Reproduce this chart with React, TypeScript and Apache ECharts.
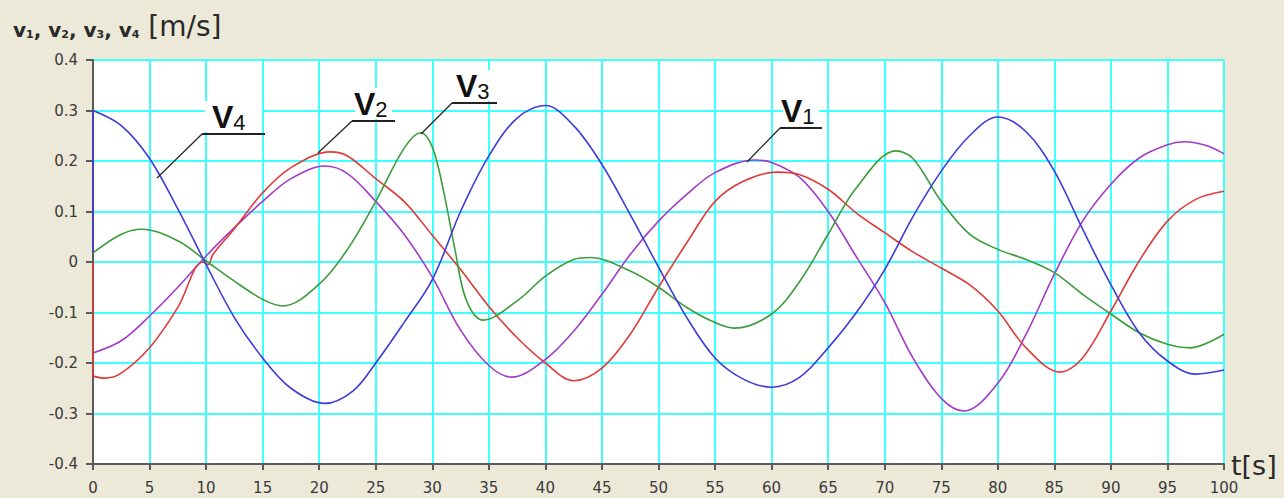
import React, { useEffect, useRef } from "react";
import * as echarts from "echarts";

// v1 (purple): time [s] and velocity [m/s]
const T1 = [0, 2.5, 5, 7.5, 10, 12.5, 15, 17.5, 20.5, 22.5, 25, 27.5, 30, 32.5, 35, 37, 40, 42.5, 45, 47.5, 50, 52.5, 55, 58.5, 60, 62.5, 65, 67.5, 70, 72.5, 75, 77, 80, 82.5, 85, 87.5, 90, 92.5, 95, 96.5, 98.5, 100];
const V1 = [-0.18, -0.156, -0.107, -0.05, 0.012, 0.068, 0.12, 0.165, 0.19, 0.175, 0.12, 0.055, -0.03, -0.135, -0.205, -0.228, -0.193, -0.137, -0.064, 0.015, 0.081, 0.134, 0.177, 0.202, 0.197, 0.167, 0.1, 0.01, -0.08, -0.19, -0.27, -0.295, -0.24, -0.143, -0.024, 0.081, 0.154, 0.206, 0.232, 0.238, 0.23, 0.214];

// v2 (red)
const T2 = [0, 1, 2.5, 5, 7.5, 9.7, 10.2, 10.6, 12.5, 15, 17.5, 21, 22.5, 25, 27.5, 30, 32.5, 35, 37.5, 40, 42.5, 45, 47.5, 50, 52.5, 55, 57.5, 60.5, 62.5, 65, 67.5, 70, 72.5, 75, 77.5, 80, 82.5, 85.5, 87.5, 90, 92.5, 95, 97.5, 100];
const V2 = [-0.226, -0.23, -0.22, -0.17, -0.09, 0.0, -0.005, 0.015, 0.066, 0.137, 0.187, 0.218, 0.21, 0.165, 0.12, 0.053, -0.015, -0.088, -0.15, -0.2, -0.235, -0.21, -0.143, -0.05, 0.038, 0.12, 0.16, 0.178, 0.173, 0.144, 0.097, 0.058, 0.02, -0.012, -0.045, -0.097, -0.17, -0.218, -0.19, -0.097, 0.002, 0.081, 0.124, 0.14];

// v3 (green)
const T3 = [0, 2.5, 4.3, 7.5, 10, 12.5, 15, 16.8, 20, 22.5, 25, 27.5, 29, 30, 31, 32, 33, 34.5, 37.5, 40, 42.5, 44, 47.5, 50, 52.5, 55, 56.7, 60, 62.5, 65, 67.5, 71, 72.5, 75, 77.5, 80, 82.5, 85, 87.5, 90, 92.5, 95, 97, 100];
const V3 = [0.018, 0.055, 0.065, 0.042, 0.002, -0.038, -0.074, -0.087, -0.044, 0.025, 0.12, 0.225, 0.256, 0.228, 0.14, 0.025, -0.075, -0.115, -0.077, -0.028, 0.005, 0.009, -0.018, -0.05, -0.09, -0.12, -0.131, -0.103, -0.038, 0.055, 0.147, 0.22, 0.205, 0.12, 0.055, 0.025, 0.005, -0.021, -0.064, -0.103, -0.14, -0.163, -0.17, -0.143];

// v4 (blue)
const T4 = [0, 2.5, 5, 7.5, 10, 12.5, 15, 17.5, 20.5, 23, 25, 27.5, 30, 32.5, 35, 37.5, 40, 42.5, 45, 47.5, 50, 52.5, 55, 57.5, 60, 62.5, 65, 67.5, 70, 72.5, 75, 77.5, 80, 82.5, 85, 87.5, 90, 92.5, 95, 97.5, 100];
const V4 = [0.3, 0.27, 0.205, 0.105, -0.005, -0.11, -0.19, -0.25, -0.28, -0.255, -0.2, -0.12, -0.035, 0.1, 0.21, 0.285, 0.31, 0.27, 0.193, 0.094, -0.01, -0.11, -0.19, -0.232, -0.248, -0.228, -0.17, -0.1, -0.015, 0.09, 0.18, 0.25, 0.287, 0.258, 0.18, 0.065, -0.045, -0.14, -0.196, -0.222, -0.214];

// values just before the jump at t = 0
const V2_START = 0.0;
const V4_START = 0.02;

const SERIES_NAMES = ["v1", "v2", "v3", "v4"];
const SERIES_TIMES = [T1, T2, T3, T4];
const SERIES_VALUES = [V1, V2, V3, V4];
const SERIES_COLORS = ["#A23CC8", "#E03A3A", "#3C9C3C", "#3C3CDC"];

const LABEL_DIGITS = ["1", "2", "3", "4"];

export default function App() {
  const ref = useRef<HTMLDivElement>(null);

  useEffect(() => {
    document.body.style.margin = "0";
    const chart = echarts.init(ref.current!, null, { renderer: "svg", width: 1284, height: 498 });

    const series: any[] = SERIES_VALUES.map((vals, k) => ({
      name: SERIES_NAMES[k],
      type: "line",
      data: SERIES_TIMES[k].map((t, i) => [t, vals[i]]),
      smooth: 0.35,
      showSymbol: false,
      lineStyle: { color: SERIES_COLORS[k], width: 1.6 },
      z: 3,
    }));
    series.push({
      type: "line",
      data: [[T2[0], V2_START], [T2[0], V2[0]]],
      showSymbol: false,
      lineStyle: { color: SERIES_COLORS[1], width: 1.6 },
      z: 3,
    });
    series.push({
      type: "line",
      data: [[T4[0], V4_START], [T4[0], V4[0]]],
      showSymbol: false,
      lineStyle: { color: SERIES_COLORS[3], width: 1.6 },
      z: 3,
    });

    // annotation geometry: [leaderStartX, leaderStartY, underlineX0, underlineX1, underlineY, textX, digit]
    const ann: Array<[number, number, number, number, number, number, string]> = [
      [747, 162, 780, 822, 128, 781, LABEL_DIGITS[0]],
      [318, 153, 352, 395, 121, 354, LABEL_DIGITS[1]],
      [421, 134, 452, 497, 103, 456, LABEL_DIGITS[2]],
      [157, 178, 202, 265, 134, 212, LABEL_DIGITS[3]],
    ];

    const graphic: any[] = [];
    ann.forEach(([lx, ly, ux0, ux1, uy, tx, d]) => {
      graphic.push({
        type: "rect",
        shape: { x: ux0 + 3, y: uy - 33, width: ux1 - ux0 - 6, height: 31 },
        style: { fill: "#ffffff" },
        z: 10,
      });
      graphic.push({
        type: "line",
        shape: { x1: lx, y1: ly, x2: ux0, y2: uy },
        style: { stroke: "#222", lineWidth: 1.2 },
        z: 11,
      });
      graphic.push({
        type: "line",
        shape: { x1: ux0, y1: uy, x2: ux1, y2: uy },
        style: { stroke: "#222", lineWidth: 1.8 },
        z: 11,
      });
      graphic.push({
        type: "text",
        x: tx,
        y: uy - 1,
        style: {
          text: "{b|V}{n|" + d + "}",
          verticalAlign: "bottom",
          rich: {
            b: { fontFamily: "Liberation Sans", fontWeight: "bold", fontSize: 32, lineHeight: 32, fill: "#111", verticalAlign: "bottom" },
            n: { fontFamily: "Liberation Sans", fontSize: 22, lineHeight: 22, fill: "#111", verticalAlign: "bottom" },
          },
        },
        z: 12,
      });
    });

    graphic.push({
      type: "text",
      x: 13,
      y: 40,
      style: {
        text: "{v|v}{s|1}{v|, v}{s|2}{v|, v}{s|3}{v|, v}{s|4}{u| [m/s]}",
        verticalAlign: "bottom",
        rich: {
          v: { fontFamily: "DejaVu Sans", fontWeight: "bold", fontSize: 20, lineHeight: 26, fill: "#2a2a2a", verticalAlign: "bottom" },
          s: { fontFamily: "DejaVu Sans", fontWeight: "bold", fontSize: 11, lineHeight: 19, fill: "#2a2a2a", verticalAlign: "bottom" },
          u: { fontFamily: "DejaVu Sans", fontSize: 28, lineHeight: 31, fill: "#2a2a2a", verticalAlign: "bottom" },
        },
      },
      z: 12,
    });
    graphic.push({
      type: "text",
      x: 1231,
      y: 479,
      style: {
        text: "t[s]",
        verticalAlign: "bottom",
        fontFamily: "DejaVu Sans",
        fontSize: 27,
        fill: "#2a2a2a",
      },
      z: 12,
    });

    chart.setOption({
      animation: false,
      backgroundColor: "#ECE9D8",
      grid: {
        left: 93,
        right: 60,
        top: 60,
        bottom: 34,
        show: true,
        backgroundColor: "#ffffff",
        borderWidth: 0,
      },
      xAxis: {
        type: "value",
        min: 0,
        max: 100,
        interval: 5,
        axisLine: { show: true, onZero: false, lineStyle: { color: "#5a5a5a", width: 2 } },
        axisTick: { show: true, length: 6, lineStyle: { color: "#5a5a5a", width: 2 } },
        axisLabel: { margin: 16, fontFamily: "DejaVu Sans", fontSize: 15, color: "#3a3a3a" },
        splitLine: { show: true, lineStyle: { color: "#40FFFF", width: 2 } },
      },
      yAxis: {
        type: "value",
        min: -0.4,
        max: 0.4,
        interval: 0.1,
        axisLine: { show: true, onZero: false, lineStyle: { color: "#5a5a5a", width: 2 } },
        axisTick: { show: true, length: 7, lineStyle: { color: "#5a5a5a", width: 2 } },
        axisLabel: {
          margin: 15,
          fontFamily: "DejaVu Sans",
          fontSize: 15,
          color: "#3a3a3a",
          formatter: (v: number) => {
            const r = Math.round(v * 10) / 10;
            return r === 0 ? "0" : r.toFixed(1);
          },
        },
        splitLine: { show: true, lineStyle: { color: "#40FFFF", width: 2 } },
      },
      series,
      graphic,
    });

    return () => chart.dispose();
  }, []);

  return <div ref={ref} style={{ position: "absolute", left: 0, top: 0, width: 1284, height: 498 }} />;
}
